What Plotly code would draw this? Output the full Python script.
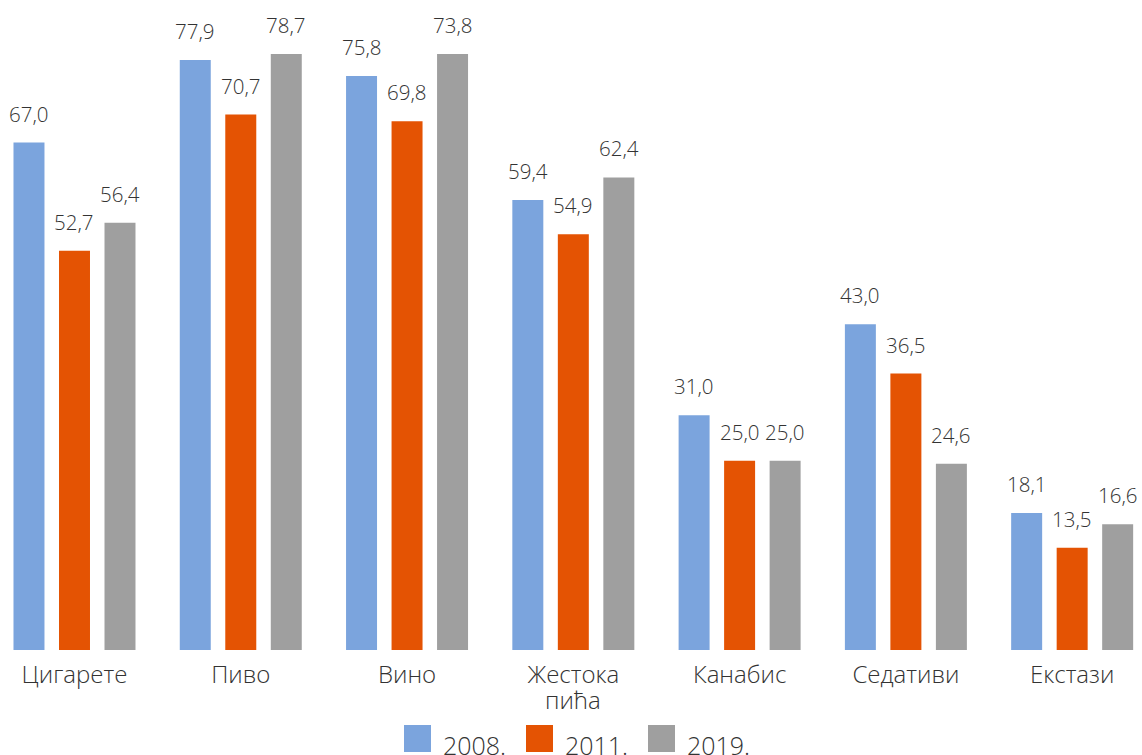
import plotly.graph_objects as go

categories = ["Цигарете", "Пиво", "Вино", "Жестока пића", "Канабис", "Седативи", "Екстази"]
# category labels as wrapped on the chart
category_lines = [["Цигарете"], ["Пиво"], ["Вино"], ["Жестока", "пића"], ["Канабис"], ["Седативи"], ["Екстази"]]
series_names = ["2008.", "2011.", "2019."]
values_2008 = [67.0, 77.9, 75.8, 59.4, 31.0, 43.0, 18.1]
values_2011 = [52.7, 70.7, 69.8, 54.9, 25.0, 36.5, 13.5]
# bar heights as drawn in the picture (the Вино 2019 bar is drawn at ~78.7 although labelled 73,8)
values_2019 = [56.4, 78.7, 78.7, 62.4, 25.0, 24.6, 16.6]
labels_2008 = ["67,0", "77,9", "75,8", "59,4", "31,0", "43,0", "18,1"]
labels_2011 = ["52,7", "70,7", "69,8", "54,9", "25,0", "36,5", "13,5"]
labels_2019 = ["56,4", "78,7", "73,8", "62,4", "25,0", "24,6", "16,6"]
colors = ["#7BA4DD", "#E45303", "#9F9F9F"]

W, H = 1142, 755
PLOT_H = 650
FONT = "Open Sans"
TXT = "#333333"

series = [values_2008, values_2011, values_2019]
labels = [labels_2008, labels_2011, labels_2019]
shifts = [-45.5, 0, 45.5]

fig = go.Figure()
for name, vals, col in zip(series_names, series, colors):
    fig.add_trace(go.Bar(x=categories, y=vals, name=name, marker_color=col,
                         marker_line_width=0, showlegend=False, hoverinfo="skip"))

annotations = []
for vals, labs, sh in zip(series, labels, shifts):
    for c, v, t in zip(categories, vals, labs):
        annotations.append(dict(x=c, y=v, text=t, xref="x", yref="y", xshift=sh,
                                yanchor="bottom", yshift=13, showarrow=False,
                                font=dict(family=FONT, size=20.5, color=TXT, weight=300)))

# extra (wrapped) lines of category labels, with tighter line spacing
for c, lines in zip(categories, category_lines):
    for k, ln in enumerate(lines[1:], start=1):
        annotations.append(dict(x=c, y=0, xref="x", yref="y", text=ln, showarrow=False,
                                yanchor="middle", yshift=-25 - 24 * k,
                                font=dict(family=FONT, size=24, color=TXT, weight=300)))

# manual legend with large square swatches
leg_sq_x = [404, 526, 648]
leg_txt_x = [441, 563, 685]
shapes = []
for sx, tx, name, col in zip(leg_sq_x, leg_txt_x, series_names, colors):
    shapes.append(dict(type="rect", xref="paper", yref="paper",
                       x0=sx / W, x1=(sx + 27) / W,
                       y0=(PLOT_H - 752) / PLOT_H, y1=(PLOT_H - 725) / PLOT_H,
                       fillcolor=col, line=dict(width=0)))
    annotations.append(dict(x=tx / W, y=(PLOT_H - 745) / PLOT_H, xref="paper", yref="paper",
                            text=name, xanchor="left", yanchor="middle", showarrow=False,
                            font=dict(family=FONT, size=25, color=TXT, weight=300)))

fig.update_layout(
    width=W, height=H,
    margin=dict(l=0, r=0, t=0, b=H - PLOT_H),
    paper_bgcolor="white", plot_bgcolor="white",
    barmode="group", bargap=0.179, bargroupgap=0.319,
    font=dict(family=FONT, color=TXT),
    xaxis=dict(range=[-0.448, 6.42], showgrid=False, zeroline=False, showline=False,
               tickmode="array", tickvals=categories, ticktext=[l[0] for l in category_lines],
               ticks="outside", ticklen=3, tickcolor="rgba(0,0,0,0)",
               tickfont=dict(family=FONT, size=24, color=TXT, weight=300)),
    yaxis=dict(range=[0, PLOT_H / 7.574], visible=False),
    annotations=annotations, shapes=shapes,
)

fig.write_html("out.html", config={"displayModeBar": False},
               post_script="document.body.style.margin='0';document.body.style.overflow='hidden';")
